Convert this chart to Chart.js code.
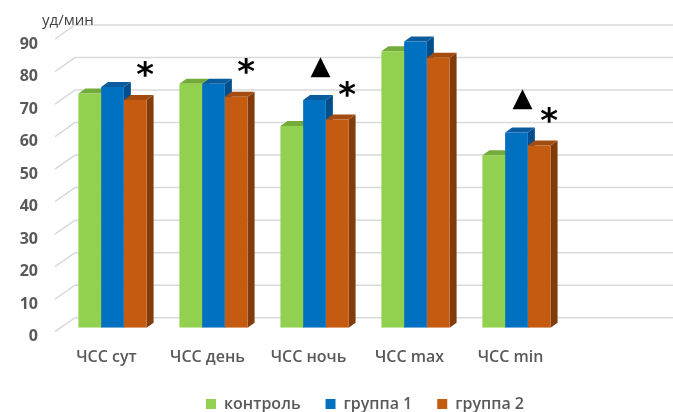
<!DOCTYPE html>
<html>
<head>
<meta charset="utf-8">
<script src="https://cdn.jsdelivr.net/npm/chart.js@4/dist/chart.umd.min.js"></script>
<style>
  html, body { margin: 0; padding: 0; background: #ffffff; }
  #wrap { width: 673px; height: 412px; }
</style>
</head>
<body>
<div id="wrap"><canvas id="chart" width="673" height="412"></canvas></div>
<script>
// Heart-rate indicators by group
const categories = ['ЧСС сут', 'ЧСС день', 'ЧСС ночь', 'ЧСС max', 'ЧСС min'];
const seriesNames = ['контроль', 'группа 1', 'группа 2'];
const controlValues = [72, 75, 62, 85, 53];
const group1Values = [74, 75, 70, 88, 60];
const group2Values = [70, 71, 64, 83, 56];
// significance marks placed above the bars of each group
const group1Marks = ['', '', '▲', '', '▲'];
const group2Marks = ['*', '*', '*', '', '*'];
const yTickValues = [0, 10, 20, 30, 40, 50, 60, 70, 80, 90];
const unitLabel = 'уд/мин';

const frontColors = ['#92D050', '#0070C0', '#C55A11'];
const topColors = ['#74AC3C', '#0B5C9E', '#A44C10'];
const sideColors = ['#5E8F2E', '#004F8C', '#823B0B'];
const textColor = '#595959';

// projection of the box depth
const BAR_DX = 7, BAR_DY = -5;
const WALL_FRONT_DX = -7, WALL_FRONT_DY = 4;
const WALL_BACK_DX = 13, WALL_BACK_DY = -10;

const wallPlugin = {
  id: 'wall3d',
  beforeDatasetsDraw(chart) {
    const ctx = chart.ctx;
    const y = chart.scales.y;
    const left = chart.chartArea.left;
    ctx.save();
    ctx.strokeStyle = '#D9D9D9';
    ctx.lineWidth = 1.5;
    yTickValues.forEach(v => {
      const py = y.getPixelForValue(v);
      ctx.beginPath();
      ctx.moveTo(left + WALL_FRONT_DX, py + WALL_FRONT_DY);
      ctx.lineTo(left + WALL_BACK_DX, py + WALL_BACK_DY);
      ctx.lineTo(chart.width, py + WALL_BACK_DY);
      ctx.stroke();
    });
    // side and top faces of every bar, left to right inside each group
    const n = categories.length;
    for (let i = 0; i < n; i++) {
      chart.data.datasets.forEach((ds, d) => {
        const bar = chart.getDatasetMeta(d).data[i];
        if (!bar || ds.data[i] == null) return;
        const p = bar.getProps(['x', 'y', 'base', 'width'], true);
        const l = p.x - p.width / 2, r = p.x + p.width / 2;
        ctx.fillStyle = sideColors[d];
        ctx.beginPath();
        ctx.moveTo(r, p.y);
        ctx.lineTo(r + BAR_DX, p.y + BAR_DY);
        ctx.lineTo(r + BAR_DX, p.base + BAR_DY);
        ctx.lineTo(r, p.base);
        ctx.closePath();
        ctx.fill();
        ctx.fillStyle = topColors[d];
        ctx.beginPath();
        ctx.moveTo(l, p.y);
        ctx.lineTo(l + BAR_DX, p.y + BAR_DY);
        ctx.lineTo(r + BAR_DX, p.y + BAR_DY);
        ctx.lineTo(r, p.y);
        ctx.closePath();
        ctx.fill();
      });
    }
    ctx.restore();
  },
  afterDraw(chart) {
    // unit caption above the value axis
    const ctx = chart.ctx;
    ctx.save();
    ctx.fillStyle = '#404040';
    ctx.font = '15px "Open Sans"';
    ctx.textAlign = 'left';
    ctx.textBaseline = 'middle';
    ctx.fillText(unitLabel, 42, 21);
    ctx.restore();
  }
};

const marksPlugin = {
  id: 'marks',
  afterDatasetsDraw(chart) {
    const ctx = chart.ctx;
    ctx.save();
    ctx.fillStyle = '#000000';
    ctx.textAlign = 'center';
    ctx.textBaseline = 'alphabetic';
    const draw = (d, marks, font, dx, lift) => {
      const meta = chart.getDatasetMeta(d);
      ctx.font = font;
      marks.forEach((m, i) => {
        if (!m) return;
        const p = meta.data[i].getProps(['x', 'y'], true);
        const mt = ctx.measureText(m);
        const cy = p.y - lift;
        ctx.fillText(m, p.x + dx, cy + (mt.actualBoundingBoxAscent - mt.actualBoundingBoxDescent) / 2);
      });
    };
    draw(1, group1Marks, '26px "DejaVu Sans"', 6, 33);
    draw(2, group2Marks, 'bold 34px "DejaVu Sans"', 10, 31);
    ctx.restore();
  }
};

const datasetValues = [controlValues, group1Values, group2Values];

new Chart(document.getElementById('chart'), {
  type: 'bar',
  data: {
    labels: [...categories, ''],
    datasets: seriesNames.map((name, d) => ({
      label: name,
      data: datasetValues[d],
      backgroundColor: frontColors[d],
      borderWidth: 0,
      barPercentage: 1,
      categoryPercentage: 0.675
    }))
  },
  options: {
    responsive: false,
    devicePixelRatio: 1,
    animation: false,
    layout: { padding: { left: 0, right: 5, top: 35, bottom: 0 } },
    scales: {
      x: {
        grid: { display: false, drawTicks: false },
        border: { display: false },
        ticks: {
          color: textColor,
          font: { family: 'Open Sans', size: 16, weight: '600' },
          padding: 20,
          labelOffset: -6,
          maxRotation: 0,
          autoSkip: false
        },
        afterFit(scale) { scale.height = 43.3; }
      },
      y: {
        min: 0,
        max: 90,
        grid: { display: false, drawTicks: false },
        border: { display: false },
        ticks: {
          stepSize: 10,
          color: textColor,
          font: { family: 'Open Sans', size: 16, weight: 'bold' },
          padding: 24,
          labelOffset: 9
        },
        afterFit(scale) { scale.width = 62; }
      }
    },
    plugins: {
      title: { display: false },
      legend: {
        position: 'bottom',
        fullSize: false,
        maxHeight: 41,
        labels: {
          color: textColor,
          font: { family: 'Open Sans', size: 16, weight: '600' },
          boxWidth: 10,
          boxHeight: 10,
          padding: 25
        }
      },
      tooltip: { enabled: false }
    }
  },
  plugins: [wallPlugin, marksPlugin]
});
</script>
</body>
</html>
